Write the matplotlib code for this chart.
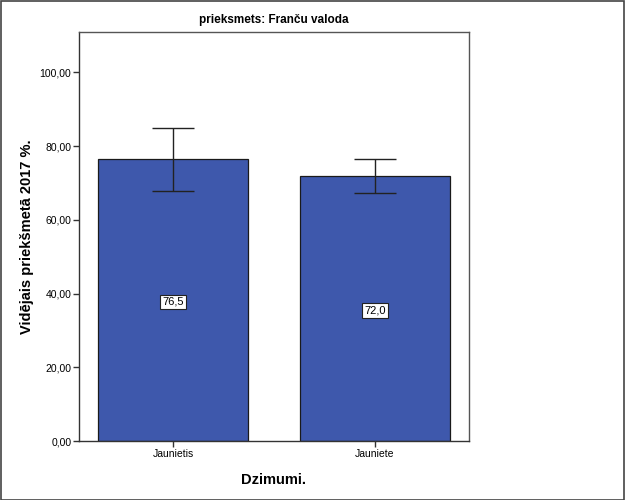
import matplotlib
matplotlib.use("Agg")
import matplotlib.pyplot as plt
from matplotlib.patches import Rectangle

categories = ["Jaunietis", "Jauniete"]
means = [76.5, 72.0]
err_low = [67.9, 67.2]
err_high = [84.8, 76.6]
yticks = [0, 20, 40, 60, 80, 100]

plt.rcParams['font.family'] = ['Liberation Sans', 'DejaVu Sans']

fig = plt.figure(figsize=(6.25, 5), dpi=100)
W, H = 625, 500
ax = fig.add_axes([79 / W, 1 - 441.3 / H, 390 / W, (441.3 - 31.7) / H])

x = list(range(len(categories)))
bars = ax.bar(x, means, width=0.738, color="#3E58AC", edgecolor="#1a1a1a", linewidth=0.9, zorder=2)

yerr = [[m - lo for m, lo in zip(means, err_low)], [hi - m for m, hi in zip(means, err_high)]]
ax.errorbar(x, means, yerr=yerr, fmt="none", ecolor="#222222", elinewidth=1.0,
            capsize=15, capthick=1.0, zorder=3)

for xi, m in zip(x, means):
    ax.text(xi, m / 2 - 0.5, f"{m:.1f}".replace(".", ","), ha="center", va="center", fontsize=8,
            bbox=dict(boxstyle="square,pad=0.22", facecolor="white", edgecolor="#222222", linewidth=0.8),
            zorder=4)

ax.set_xlim(-0.465, 1.465)
ax.set_ylim(0, 111)
ax.set_yticks(yticks)
ax.set_yticklabels([f"{v:.2f}".replace(".", ",") for v in yticks], fontsize=7.5)
ax.set_xticks(x)
ax.set_xticklabels(categories, fontsize=7.5)
ax.tick_params(axis="both", length=4, width=1, color="#333333", pad=1.5)

for s in ax.spines.values():
    s.set_color("#555555")
    s.set_linewidth(1.0)
ax.spines["left"].set_color("#333333")
ax.spines["bottom"].set_color("#333333")

ax.set_title("prieksmets: Franču valoda", fontsize=8.5, fontweight="bold", pad=6)
ax.set_ylabel("Vidējais priekšmetā 2017 %.", fontsize=10.5, fontweight="bold", labelpad=4)
ax.set_xlabel("Dzimumi.", fontsize=10.5, fontweight="bold", labelpad=10)

fig.patches.append(Rectangle((0.5 / W, 0.5 / H), 1 - 1.5 / W, 1 - 1.5 / H, transform=fig.transFigure,
                             fill=False, edgecolor="#444444", linewidth=1.2))

fig.savefig("out.png", dpi=100)
